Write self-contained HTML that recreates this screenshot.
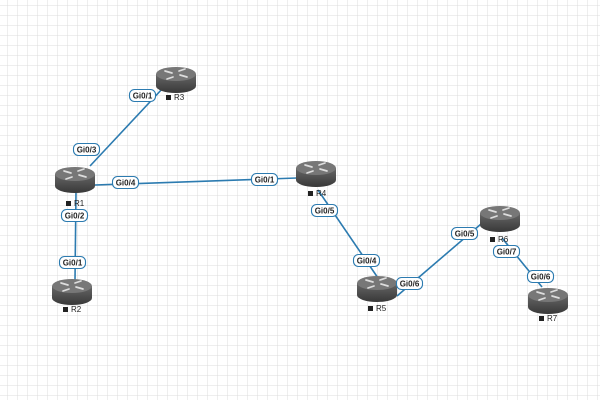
<!DOCTYPE html>
<html><head><style>
html,body{margin:0;padding:0;background:#fff;}
svg{display:block;}
text{font-family:"Liberation Sans",sans-serif;}
</style></head><body>
<svg width="600" height="400" viewBox="0 0 600 400" xmlns="http://www.w3.org/2000/svg">
<defs>
<pattern id="g" width="10" height="10" patternUnits="userSpaceOnUse" x="8" y="6">
<path d="M10 0V10M0 10H10" stroke="#dcdcdc" stroke-width="1" fill="none"/>
</pattern>
<linearGradient id="body" x1="0" y1="0" x2="0" y2="1">
<stop offset="0" stop-color="#666"/><stop offset="1" stop-color="#383838"/>
</linearGradient>
<g id="rt">
<path d="M-20 -6 V6 A20 7 0 0 0 20 6 V-6 Z" fill="url(#body)"/>
<ellipse cx="0" cy="-6" rx="20" ry="7" fill="#777"/>
<g stroke="#ddd" stroke-width="1.7" stroke-linecap="round">
<path d="M-11 -9 L-4 -7 M11 -3 L4 -5 M-3 -3 L-9 -1 M3 -9 L9 -11"/>
</g>
</g>
</defs>
<rect width="600" height="400" fill="#fff"/>
<rect width="600" height="400" fill="url(#g)"/>
<g stroke="#2c7bb0" stroke-width="1.6" fill="none">
<line x1="90" y1="166" x2="163" y2="88"/>
<line x1="95" y1="185" x2="297" y2="178"/>
<line x1="76" y1="192" x2="75" y2="280"/>
<line x1="318" y1="190" x2="378" y2="278"/>
<line x1="397" y1="296" x2="481" y2="224"/>
<line x1="502" y1="238" x2="542" y2="287"/>
</g>
<use href="#rt" x="176" y="80"/>
<use href="#rt" x="75" y="180"/>
<use href="#rt" x="72" y="292"/>
<use href="#rt" x="316" y="174"/>
<use href="#rt" x="377" y="289"/>
<use href="#rt" x="500" y="219"/>
<use href="#rt" x="548" y="301"/>
<g font-size="8" fill="#222">
<rect x="166" y="95" width="5" height="5" fill="#222"/><text x="174" y="100">R3</text>
<rect x="66" y="201" width="5" height="5" fill="#222"/><text x="74" y="206">R1</text>
<rect x="63" y="307" width="5" height="5" fill="#222"/><text x="71" y="312">R2</text>
<rect x="308" y="191" width="5" height="5" fill="#222"/><text x="316" y="196">R4</text>
<rect x="368" y="306" width="5" height="5" fill="#222"/><text x="376" y="311">R5</text>
<rect x="490" y="237" width="5" height="5" fill="#222"/><text x="498" y="242">R6</text>
<rect x="539" y="316" width="5" height="5" fill="#222"/><text x="547" y="321">R7</text>
</g>
<g font-size="8" fill="#222" text-anchor="middle" font-weight="600">
<g stroke="#2c7bb0" stroke-width="1.1" fill="#fff">
<rect x="129.5" y="89.5" width="26" height="12" rx="5"/>
<rect x="73.5" y="143.5" width="26" height="12" rx="5"/>
<rect x="112.5" y="176.5" width="26" height="12" rx="5"/>
<rect x="251.5" y="173.5" width="26" height="12" rx="5"/>
<rect x="61.5" y="209.5" width="26" height="12" rx="5"/>
<rect x="59.5" y="256.5" width="26" height="12" rx="5"/>
<rect x="311.5" y="204.5" width="26" height="12" rx="5"/>
<rect x="353.5" y="254.5" width="26" height="12" rx="5"/>
<rect x="396.5" y="277.5" width="26" height="12" rx="5"/>
<rect x="451.5" y="227.5" width="26" height="12" rx="5"/>
<rect x="493.5" y="245.5" width="26" height="12" rx="5"/>
<rect x="527.5" y="270.5" width="26" height="12" rx="5"/>
</g>
<text x="142.5" y="98.5">Gi0/1</text>
<text x="86.5" y="152.5">Gi0/3</text>
<text x="125.5" y="185.5">Gi0/4</text>
<text x="264.5" y="182.5">Gi0/1</text>
<text x="74.5" y="218.5">Gi0/2</text>
<text x="72.5" y="265.5">Gi0/1</text>
<text x="324.5" y="213.5">Gi0/5</text>
<text x="366.5" y="263.5">Gi0/4</text>
<text x="409.5" y="286.5">Gi0/6</text>
<text x="464.5" y="236.5">Gi0/5</text>
<text x="506.5" y="254.5">Gi0/7</text>
<text x="540.5" y="279.5">Gi0/6</text>
</g>
</svg>
</body></html>
